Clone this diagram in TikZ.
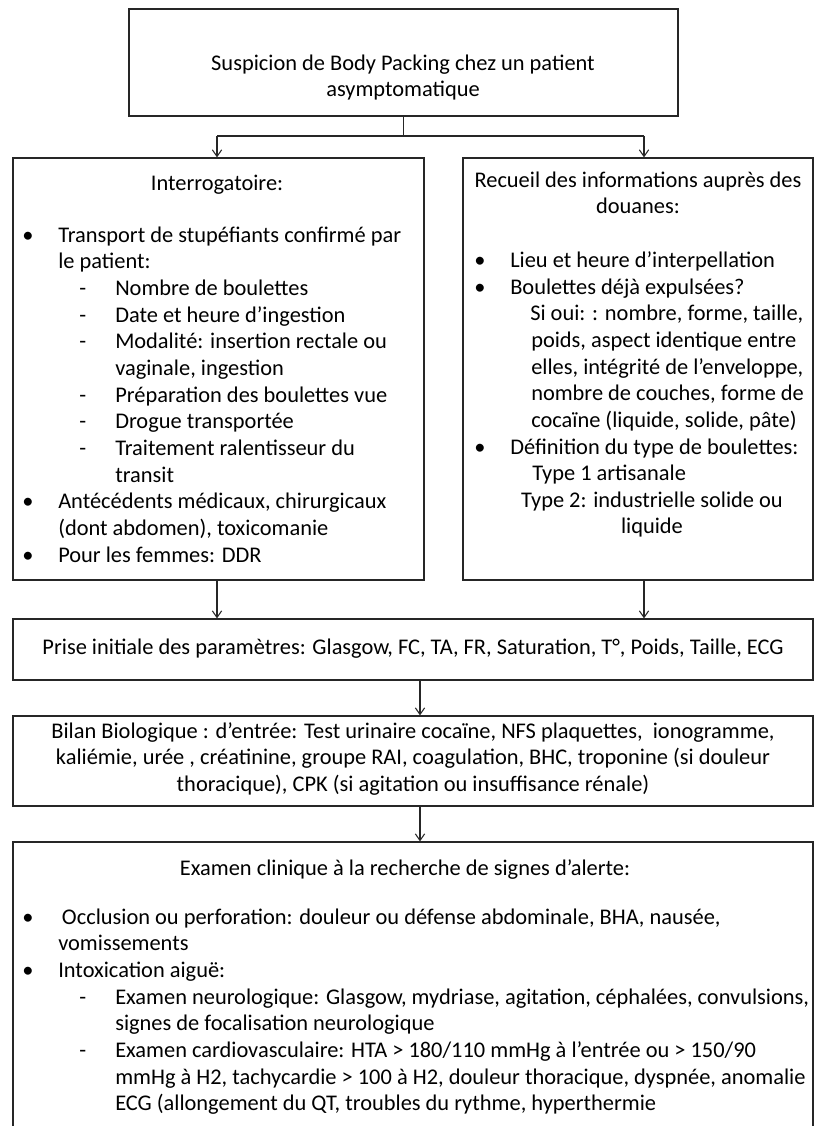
\documentclass[tikz,border=0pt]{standalone}
\usepackage{fontspec}
\setmainfont{Carlito}
\usetikzlibrary{arrows.meta,fit}

\tikzset{
  frame/.style={draw=black!85, line width=0.9pt, inner sep=0pt},
  txt/.style={inner sep=0pt, font=\fontsize{16.8}{20}\selectfont, execute at begin node=\strut},
  arr/.style={draw=black!85, line width=0.8pt, -{Straight Barb[length=5pt,width=7pt]}},
  link/.style={draw=black!85, line width=0.8pt},
}
\newcommand{\bul}{\makebox[27pt][l]{•}}
\newcommand{\dsh}{\hspace*{42.75pt}\makebox[27pt][l]{-}}
\newcommand{\hang}{\hspace*{27pt}}
\newcommand{\dhang}{\hspace*{69.75pt}}

\begin{document}
\begin{tikzpicture}[x=0.75pt, y=-0.75pt]
  \useasboundingbox (0,0) rectangle (814,1126);

  % frames
  \node[frame, fit={(129,9) (678,116)}] (suspicion) {};
  \node[frame, fit={(13,158) (424,580)}] (interro) {};
  \node[frame, fit={(463,158) (813,580)}] (douanes) {};
  \node[frame, fit={(13,619) (813,680)}] (prise) {};
  \node[frame, fit={(13,716) (813,806)}] (bilan) {};
  \node[frame, fit={(13,842) (813,1150)}] (examen) {};

  % texts
  \node[txt, anchor=north, align=center] (suspiciontxt) at (403,54.4)
    {Suspicion de Body Packing chez un patient\\asymptomatique};

  \node[txt, anchor=north] (interrotitle) at (217,171.4) {Interrogatoire:};
  \node[txt, anchor=north west, align=left] (interrolist) at (22,226.4)
    {\bul Transport de stupéfiants confirmé par\\
     \hang le patient:\\
     \dsh Nombre de boulettes\\
     \dsh Date et heure d’ingestion\\
     \dsh Modalité: insertion rectale ou\\
     \dhang vaginale, ingestion\\
     \dsh Préparation des boulettes vue\\
     \dsh Drogue transportée\\
     \dsh Traitement ralentisseur du\\
     \dhang transit\\
     \bul Antécédents médicaux, chirurgicaux\\
     \hang (dont abdomen), toxicomanie\\
     \bul Pour les femmes: DDR};

  \node[txt, anchor=north, align=center] (douanestitle) at (638,171.4)
    {Recueil des informations auprès des\\douanes:};
  \node[txt, anchor=north west, align=left] (douaneslist) at (474,251.4)
    {\bul Lieu et heure d’interpellation\\
     \bul Boulettes déjà expulsées?\\
     \hspace*{42pt}Si oui: : nombre, forme, taille,\\
     \hspace*{42.75pt}poids, aspect identique entre\\
     \hspace*{42.75pt}elles, intégrité de l’enveloppe,\\
     \hspace*{42.75pt}nombre de couches, forme de\\
     \hspace*{42.75pt}cocaïne (liquide, solide, pâte)\\
     \bul Définition du type de boulettes:\\
     \hspace*{43.5pt}Type 1 artisanale};
  \node[txt, anchor=north, align=center] (douanestype) at (652,491.4)
    {Type 2: industrielle solide ou\\liquide};

  \node[txt] (prisetxt) at (prise.center)
    {Prise initiale des paramètres: Glasgow, FC, TA, FR, Saturation, T°, Poids, Taille, ECG};
  \node[txt, align=center] (bilantxt) at (bilan.center)
    {Bilan Biologique : d’entrée: Test urinaire cocaïne, NFS plaquettes,~ ionogramme,\\
     kaliémie, urée , créatinine, groupe RAI, coagulation, BHC, troponine (si douleur\\
     thoracique), CPK (si agitation ou insuffisance rénale)};

  \node[txt, anchor=north] (examentitle) at (405,856.4)
    {Examen clinique à la recherche de signes d’alerte:};
  \node[txt, anchor=north west, align=left] (examenlist) at (22,908.4)
    {\bul \,Occlusion ou perforation: douleur ou défense abdominale, BHA, nausée,\\
     \hang vomissements\\
     \bul Intoxication aiguë:\\
     \dsh Examen neurologique: Glasgow, mydriase, agitation, céphalées, convulsions,\\
     \dhang signes de focalisation neurologique\\
     \dsh Examen cardiovasculaire: HTA > 180/110 mmHg à l’entrée ou > 150/90\\
     \dhang mmHg à H2, tachycardie > 100 à H2, douleur thoracique, dyspnée, anomalie\\
     \dhang ECG (allongement du QT, troubles du rythme, hyperthermie};

  % connectors
  \coordinate (l) at (217,136);
  \coordinate (r) at (644,136);
  \coordinate (m) at (420,0);
  \path[link] (suspicion.south) -- (suspicion.south |- l);
  \path[link] (l) -- (r);
  \path[arr] (l) -- (l |- interro.north);
  \path[arr] (r) -- (r |- douanes.north);
  \path[arr] (interro.south -| l) -- (prise.north -| l);
  \path[arr] (douanes.south -| r) -- (prise.north -| r);
  \path[arr] (prise.south -| m) -- (bilan.north -| m);
  \path[arr] (bilan.south -| m) -- (examen.north -| m);
\end{tikzpicture}
\end{document}
